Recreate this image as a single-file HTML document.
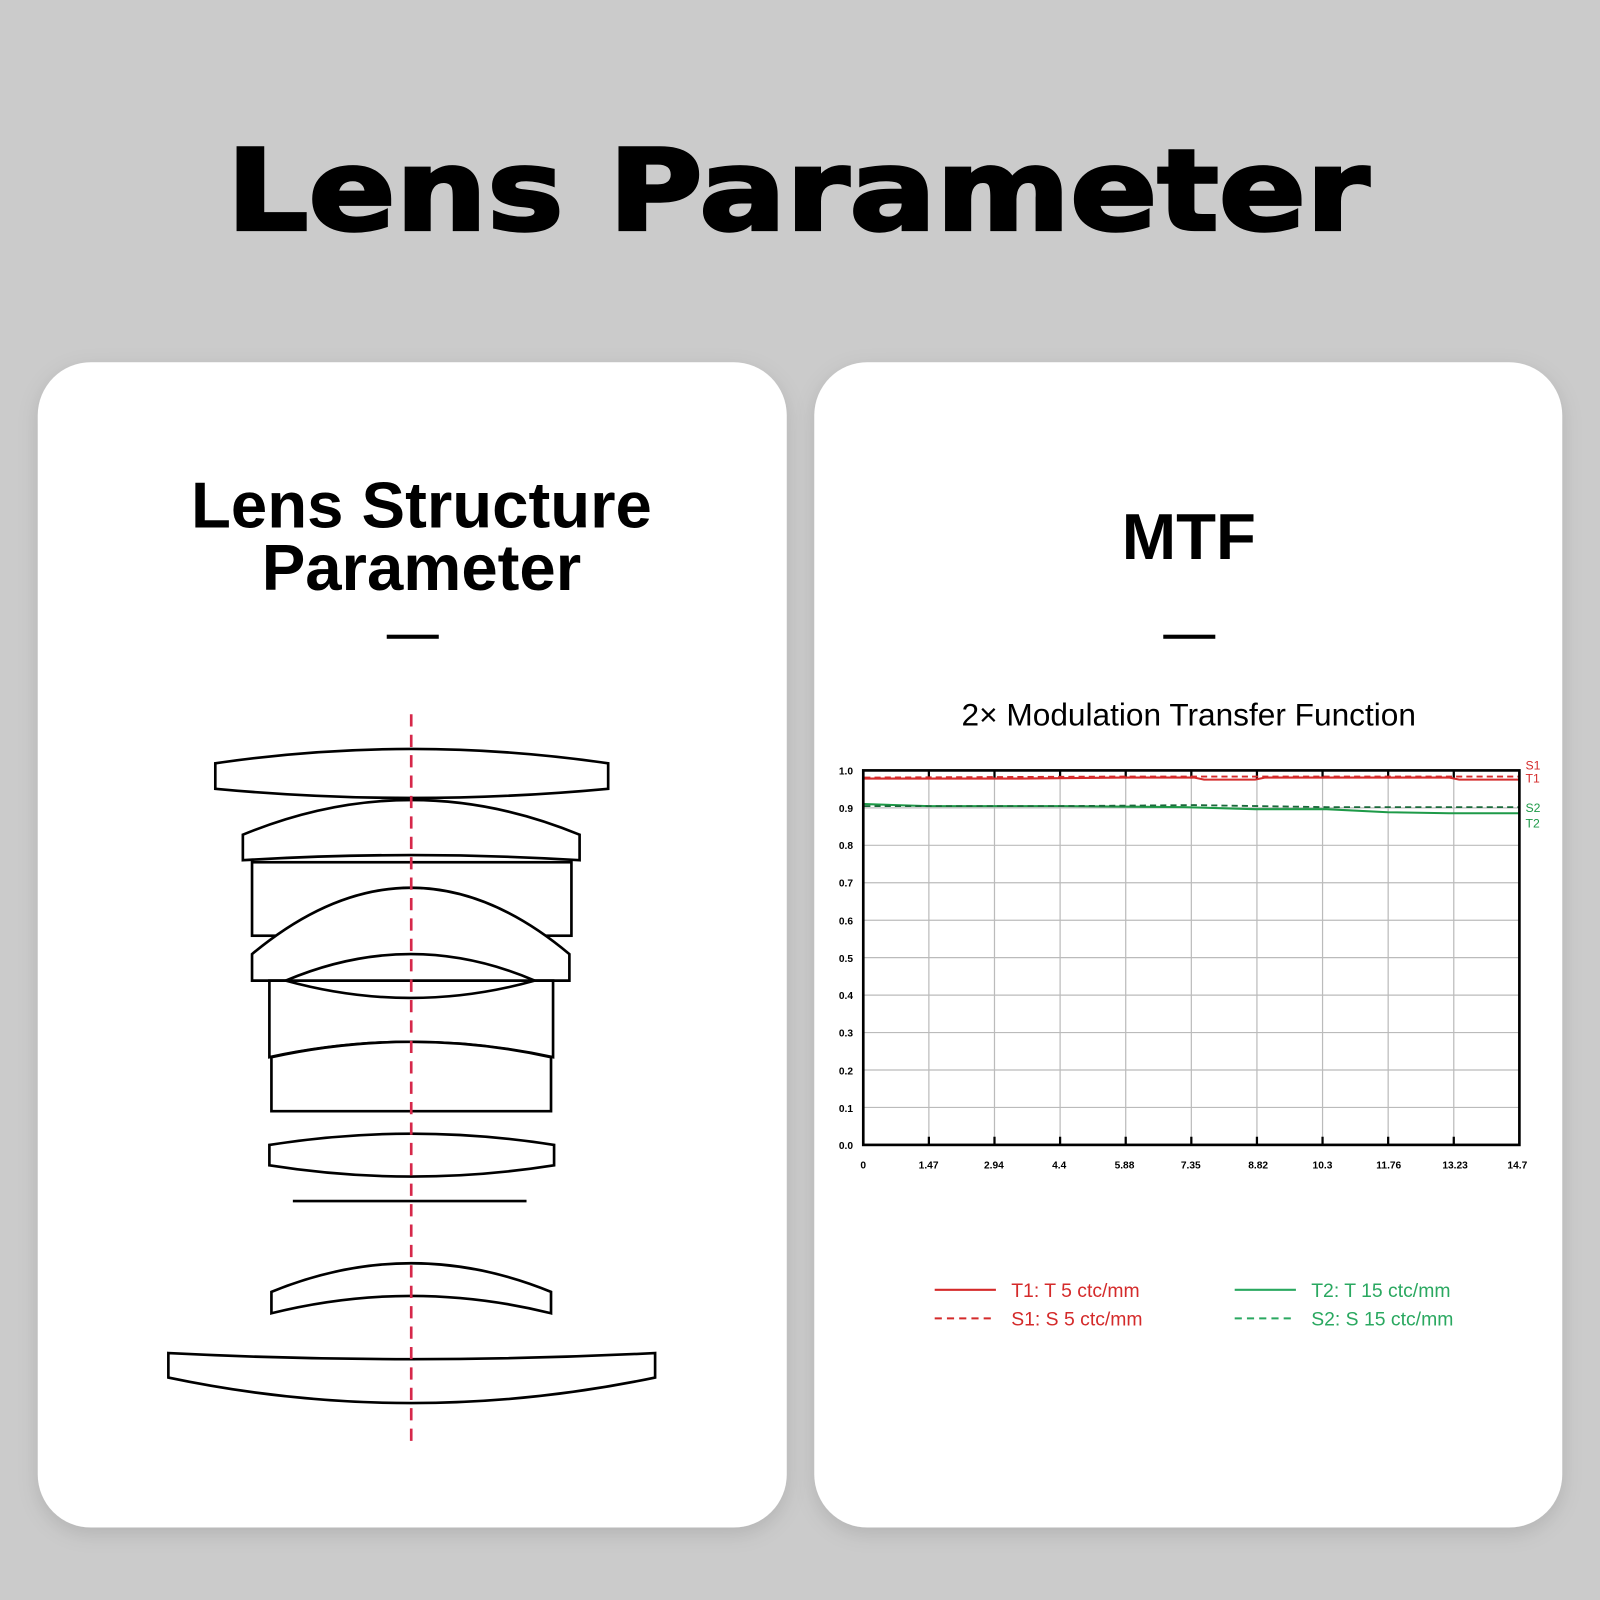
<!DOCTYPE html>
<html><head><meta charset="utf-8"><style>
html,body{margin:0;padding:0;background:#cbcbcb;}
svg{display:block;}
text{font-family:"Liberation Sans",sans-serif;}
</style></head><body>
<svg width="1600" height="1600" viewBox="0 0 1568 1568" xmlns="http://www.w3.org/2000/svg">
<defs>
<filter id="sh" x="-10%" y="-10%" width="120%" height="120%"><feDropShadow dx="0" dy="6" stdDeviation="10" flood-color="#000" flood-opacity="0.12"/></filter>
</defs>
<rect width="1568" height="1568" fill="#cbcbcb"/>
<text x="222" y="225" font-size="110" font-weight="900" textLength="1120" lengthAdjust="spacingAndGlyphs" fill="#000" stroke="#000" stroke-width="3" style="font-family:'DejaVu Sans','Liberation Sans',sans-serif">Lens Parameter</text>

<rect x="37" y="355" width="734" height="1142" rx="52" fill="#fff" filter="url(#sh)"/>
<rect x="798" y="355" width="733" height="1142" rx="52" fill="#fff" filter="url(#sh)"/>

<text x="413" y="517" font-size="64" font-weight="bold" text-anchor="middle" fill="#000">Lens Structure</text>
<text x="413" y="578" font-size="64" font-weight="bold" text-anchor="middle" fill="#000">Parameter</text>
<rect x="379" y="622" width="51" height="4" fill="#000"/>

<text x="1165" y="548" font-size="64" font-weight="bold" text-anchor="middle" fill="#000">MTF</text>
<rect x="1140" y="622" width="51" height="4" fill="#000"/>
<text x="1165" y="711" font-size="31" text-anchor="middle" fill="#000">2× Modulation Transfer Function</text>

<!-- lens drawing -->
<g fill="#fff" stroke="#000" stroke-width="2.6" stroke-linejoin="miter">
<path d="M211,748 Q403,720 596,748 L596,773 Q403,791 211,773 Z"/>
<path d="M238,818 Q403,750 568,818 L568,843 Q403,833 238,843 Z"/>
<rect x="247" y="845" width="313" height="72"/>
<path d="M247,961 L247,935 Q403,805 558,935 L558,961 Z"/>
<path d="M280,961 Q403,909 524,961" fill="none"/>
<path d="M264,961 L280,961 Q403,995 524,961 L542,961 L542,1036 Q403,1006 264,1036 Z"/>
<path d="M266,1036 Q403,1006 540,1036 L540,1089 L266,1089 Z"/>
<path d="M264,1122 Q403,1100 543,1122 L543,1142 Q403,1164 264,1142 Z"/>
<line x1="287" y1="1177" x2="516" y2="1177"/>
<path d="M266,1266 Q403,1210 540,1266 L540,1287 Q403,1253 266,1287 Z"/>
<path d="M165,1326 Q403,1338 642,1326 L642,1350 Q403,1400 165,1350 Z"/>
</g>
<line x1="403" y1="700" x2="403" y2="1418" stroke="#d6284a" stroke-width="2.6" stroke-dasharray="12,8"/>

<!-- chart -->
<g stroke="#bbb" stroke-width="1.2">
<line x1="846" y1="791.7" x2="1489" y2="791.7"/>
<line x1="846" y1="828.4" x2="1489" y2="828.4"/>
<line x1="846" y1="865.1" x2="1489" y2="865.1"/>
<line x1="846" y1="901.8" x2="1489" y2="901.8"/>
<line x1="846" y1="938.5" x2="1489" y2="938.5"/>
<line x1="846" y1="975.2" x2="1489" y2="975.2"/>
<line x1="846" y1="1011.9" x2="1489" y2="1011.9"/>
<line x1="846" y1="1048.6" x2="1489" y2="1048.6"/>
<line x1="846" y1="1085.3" x2="1489" y2="1085.3"/>
<line x1="910.3" y1="755" x2="910.3" y2="1122"/>
<line x1="974.6" y1="755" x2="974.6" y2="1122"/>
<line x1="1038.9" y1="755" x2="1038.9" y2="1122"/>
<line x1="1103.2" y1="755" x2="1103.2" y2="1122"/>
<line x1="1167.5" y1="755" x2="1167.5" y2="1122"/>
<line x1="1231.8" y1="755" x2="1231.8" y2="1122"/>
<line x1="1296.1" y1="755" x2="1296.1" y2="1122"/>
<line x1="1360.4" y1="755" x2="1360.4" y2="1122"/>
<line x1="1424.7" y1="755" x2="1424.7" y2="1122"/>
</g>
<g stroke="#000" stroke-width="2.2">
<line x1="910.3" y1="755" x2="910.3" y2="763"/><line x1="910.3" y1="1114" x2="910.3" y2="1122"/>
<line x1="974.6" y1="755" x2="974.6" y2="763"/><line x1="974.6" y1="1114" x2="974.6" y2="1122"/>
<line x1="1038.9" y1="755" x2="1038.9" y2="763"/><line x1="1038.9" y1="1114" x2="1038.9" y2="1122"/>
<line x1="1103.2" y1="755" x2="1103.2" y2="763"/><line x1="1103.2" y1="1114" x2="1103.2" y2="1122"/>
<line x1="1167.5" y1="755" x2="1167.5" y2="763"/><line x1="1167.5" y1="1114" x2="1167.5" y2="1122"/>
<line x1="1231.8" y1="755" x2="1231.8" y2="763"/><line x1="1231.8" y1="1114" x2="1231.8" y2="1122"/>
<line x1="1296.1" y1="755" x2="1296.1" y2="763"/><line x1="1296.1" y1="1114" x2="1296.1" y2="1122"/>
<line x1="1360.4" y1="755" x2="1360.4" y2="763"/><line x1="1360.4" y1="1114" x2="1360.4" y2="1122"/>
<line x1="1424.7" y1="755" x2="1424.7" y2="763"/><line x1="1424.7" y1="1114" x2="1424.7" y2="1122"/>
</g>
<polyline fill="none" stroke="#d42a2a" stroke-width="2" points="847,763 1000,763 1100,762 1170,762 1180,764 1230,764 1240,762 1300,762 1360,762 1420,762 1430,764 1489,764"/>
<polyline fill="none" stroke="#d42a2a" stroke-width="1.8" stroke-dasharray="6,4" points="847,762 1100,761 1489,761"/>
<polyline fill="none" stroke="#1e9a48" stroke-width="2" points="847,788 910,790 1040,790 1160,791 1230,793 1300,793 1360,796 1420,797 1489,797"/>
<polyline fill="none" stroke="#1a6a3a" stroke-width="1.8" stroke-dasharray="6,4" points="847,790 1040,790 1170,789 1300,791 1489,791"/>
<rect x="846" y="755" width="643" height="367" fill="none" stroke="#000" stroke-width="2.6"/>
<g font-size="10" font-weight="bold" fill="#000" text-anchor="end">
<text x="836" y="759">1.0</text><text x="836" y="796">0.9</text><text x="836" y="832">0.8</text>
<text x="836" y="869">0.7</text><text x="836" y="906">0.6</text><text x="836" y="943">0.5</text>
<text x="836" y="979">0.4</text><text x="836" y="1016">0.3</text><text x="836" y="1053">0.2</text>
<text x="836" y="1090">0.1</text><text x="836" y="1126">0.0</text>
</g>
<g font-size="10" font-weight="bold" fill="#000" text-anchor="middle">
<text x="846" y="1145">0</text><text x="910" y="1145">1.47</text><text x="974" y="1145">2.94</text>
<text x="1038" y="1145">4.4</text><text x="1102" y="1145">5.88</text><text x="1167" y="1145">7.35</text>
<text x="1233" y="1145">8.82</text><text x="1296" y="1145">10.3</text><text x="1361" y="1145">11.76</text>
<text x="1426" y="1145">13.23</text><text x="1487" y="1145">14.7</text>
</g>
<g font-size="12" style="font-family:'Liberation Mono',monospace">
<text x="1495" y="754" fill="#d42a2a">S1</text><text x="1495" y="767" fill="#d42a2a">T1</text>
<text x="1495" y="796" fill="#1e9a48">S2</text><text x="1495" y="811" fill="#1e9a48">T2</text>
</g>
<line x1="916" y1="1264" x2="976" y2="1264" stroke="#d42a2a" stroke-width="2"/>
<line x1="916" y1="1292" x2="976" y2="1292" stroke="#d42a2a" stroke-width="2" stroke-dasharray="7,5"/>
<line x1="1210" y1="1264" x2="1270" y2="1264" stroke="#2aa860" stroke-width="2"/>
<line x1="1210" y1="1292" x2="1270" y2="1292" stroke="#2aa860" stroke-width="2" stroke-dasharray="7,5"/>
<g font-size="19">
<text x="991" y="1271" fill="#d42a2a">T1: T 5 ctc/mm</text>
<text x="991" y="1299" fill="#d42a2a">S1: S 5 ctc/mm</text>
<text x="1285" y="1271" fill="#2aa860">T2: T 15 ctc/mm</text>
<text x="1285" y="1299" fill="#2aa860">S2: S 15 ctc/mm</text>
</g>
</svg>
</body></html>
